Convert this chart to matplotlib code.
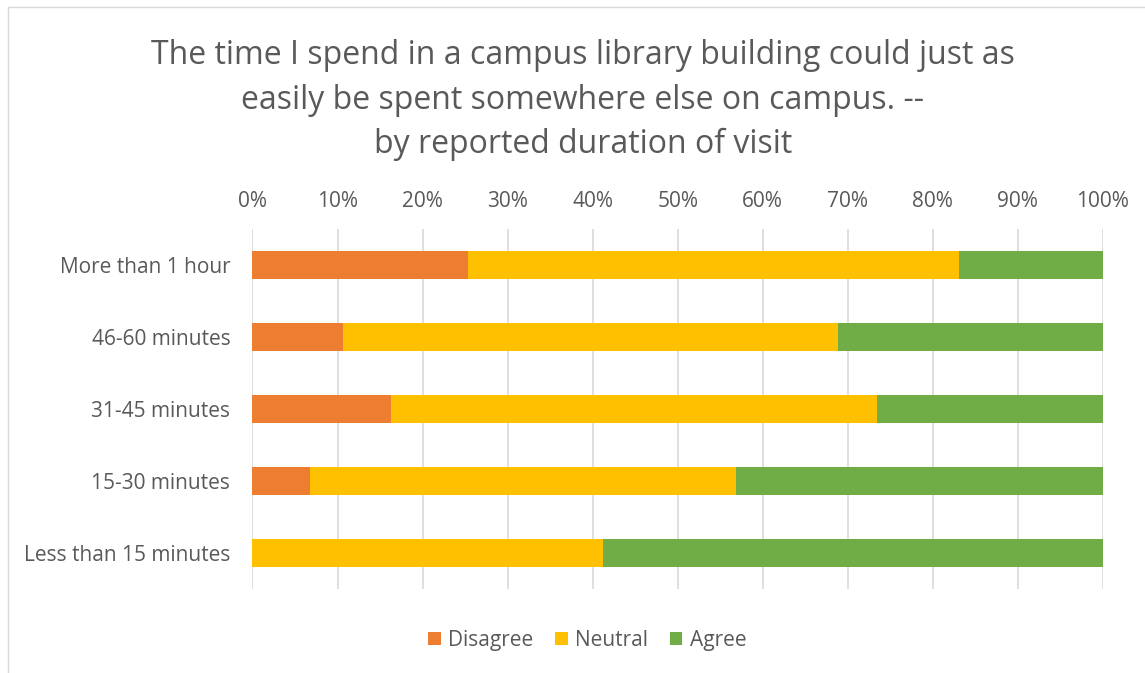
import matplotlib
matplotlib.use("Agg")
import matplotlib.pyplot as plt
from matplotlib.patches import Rectangle
import numpy as np

categories = ["More than 1 hour", "46-60 minutes", "31-45 minutes", "15-30 minutes", "Less than 15 minutes"]
disagree = [25.3, 10.6, 16.3, 6.8, 0.0]
neutral = [57.8, 58.3, 57.1, 50.1, 41.2]
agree = [16.9, 31.1, 26.6, 43.1, 58.8]
series_names = ["Disagree", "Neutral", "Agree"]
colors = ["#ED7D31", "#FFC000", "#70AD47"]

plt.rcParams['font.family'] = ['Open Sans', 'DejaVu Sans']
txt = "#595959"

fig = plt.figure(figsize=(11.45, 6.73), dpi=100)
ax = fig.add_axes([0.2205, 0.1248, 0.9633 - 0.2205, 0.6597 - 0.1248])

y = np.arange(len(categories))
left = np.zeros(len(categories))
for vals, name, c in zip([disagree, neutral, agree], series_names, colors):
    ax.barh(y, vals, left=left, height=0.4, color=c, label=name, zorder=3)
    left = left + np.array(vals)

ax.set_ylim(len(categories) - 0.5, -0.5)
ax.set_xlim(0, 100)
ax.set_xticks(np.arange(0, 101, 10))
ax.set_xticklabels([f"{v}%" for v in range(0, 101, 10)])
ax.xaxis.tick_top()
ax.set_yticks(y)
ax.set_yticklabels(categories)
ax.tick_params(axis='both', length=0, labelsize=15, colors=txt)
ax.tick_params(axis='x', pad=12)
ax.tick_params(axis='y', pad=16)
ax.grid(axis='x', color="#D9D9D9", linewidth=1.2, zorder=0)
for s in ax.spines.values():
    s.set_visible(False)

fig.text(0.509, 0.851, "The time I spend in a campus library building could just as\neasily be spent somewhere else on campus. --\nby reported duration of visit",
         ha='center', va='center', fontsize=23, color=txt, linespacing=1.45)

leg = fig.legend(loc='center', bbox_to_anchor=(0.513, 0.048), ncol=3, frameon=False,
                 fontsize=15, handlelength=0.6, handleheight=0.6, handletextpad=0.35,
                 columnspacing=1.05)
for t in leg.get_texts():
    t.set_color(txt)

fig.patches.append(Rectangle((0.007, -0.01), 1.0, 1.0, transform=fig.transFigure,
                             fill=False, edgecolor="#D9D9D9", linewidth=1))

fig.savefig("out.png", dpi=100)
